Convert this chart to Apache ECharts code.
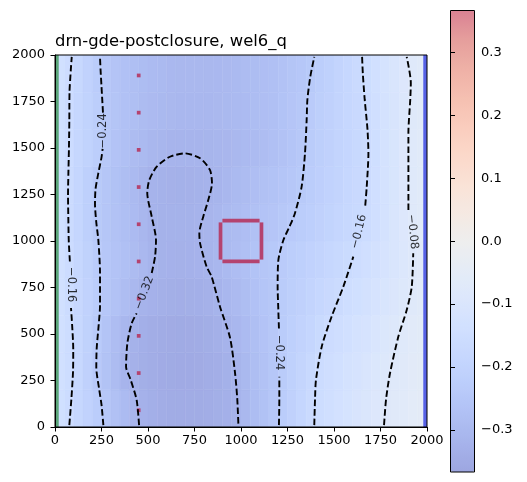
<!DOCTYPE html>
<html>
<head>
<meta charset="utf-8">
<script src="https://cdn.jsdelivr.net/npm/echarts@6/dist/echarts.min.js"></script>
<style>
  html, body { margin: 0; padding: 0; background: #fff; }
  #chart { width: 527px; height: 482px; }
</style>
</head>
<body>
<div id="chart"></div>
<script>
// cell centres of the coarse field, model units (m)
const colX = [25, 75, 125, 175, 225, 275, 325, 375, 425, 475, 525, 575, 625, 675, 725, 775, 825, 875, 925, 975,
  1025, 1075, 1125, 1175, 1225, 1275, 1325, 1375, 1425, 1475, 1525, 1575, 1625, 1675, 1725, 1775, 1825, 1875, 1925, 1975];
const rowY = [100, 300, 500, 700, 900, 1100, 1300, 1500, 1700, 1900];

// wel6_q sensitivity, one row per rowY entry (bottom -> top)
const row100 = [-0.140, -0.160, -0.183, -0.206, -0.229, -0.251, -0.272, -0.293, -0.314, -0.327, -0.335, -0.341, -0.345, -0.347, -0.347, -0.345, -0.342, -0.337, -0.330, -0.322,
  -0.305, -0.287, -0.269, -0.251, -0.231, -0.210, -0.189, -0.168, -0.153, -0.142, -0.131, -0.121, -0.110, -0.099, -0.089, -0.079, -0.072, -0.065, -0.058, -0.051];
const row300 = [-0.138, -0.153, -0.178, -0.210, -0.242, -0.266, -0.291, -0.316, -0.328, -0.336, -0.343, -0.348, -0.351, -0.352, -0.352, -0.349, -0.344, -0.338, -0.329, -0.318,
  -0.301, -0.284, -0.267, -0.250, -0.233, -0.213, -0.193, -0.174, -0.157, -0.147, -0.136, -0.126, -0.116, -0.106, -0.095, -0.085, -0.076, -0.069, -0.061, -0.054];
const row500 = [-0.138, -0.154, -0.178, -0.207, -0.237, -0.261, -0.285, -0.308, -0.325, -0.334, -0.341, -0.346, -0.349, -0.350, -0.349, -0.346, -0.340, -0.332, -0.322, -0.307,
  -0.293, -0.278, -0.263, -0.248, -0.233, -0.217, -0.201, -0.186, -0.170, -0.156, -0.146, -0.136, -0.126, -0.116, -0.105, -0.095, -0.085, -0.076, -0.068, -0.059];
const row700 = [-0.139, -0.157, -0.181, -0.206, -0.231, -0.251, -0.268, -0.286, -0.303, -0.320, -0.327, -0.333, -0.336, -0.338, -0.337, -0.334, -0.328, -0.319, -0.307, -0.295,
  -0.283, -0.270, -0.258, -0.246, -0.234, -0.222, -0.210, -0.198, -0.185, -0.173, -0.161, -0.150, -0.140, -0.129, -0.118, -0.108, -0.097, -0.087, -0.076, -0.065];
const row900 = [-0.139, -0.158, -0.182, -0.207, -0.232, -0.249, -0.263, -0.276, -0.289, -0.303, -0.316, -0.324, -0.327, -0.328, -0.327, -0.323, -0.316, -0.306, -0.296, -0.286,
  -0.276, -0.265, -0.255, -0.245, -0.235, -0.225, -0.215, -0.205, -0.195, -0.185, -0.175, -0.165, -0.154, -0.142, -0.129, -0.117, -0.105, -0.092, -0.080, -0.070];
const row1100 = [-0.140, -0.162, -0.188, -0.215, -0.241, -0.254, -0.267, -0.280, -0.293, -0.307, -0.320, -0.324, -0.326, -0.326, -0.324, -0.321, -0.314, -0.306, -0.297, -0.289,
  -0.281, -0.272, -0.264, -0.256, -0.247, -0.239, -0.229, -0.219, -0.209, -0.199, -0.189, -0.179, -0.169, -0.159, -0.141, -0.124, -0.106, -0.089, -0.075, -0.065];
const row1300 = [-0.141, -0.163, -0.189, -0.215, -0.241, -0.255, -0.269, -0.284, -0.298, -0.312, -0.322, -0.326, -0.328, -0.329, -0.328, -0.326, -0.322, -0.315, -0.306, -0.298,
  -0.290, -0.282, -0.273, -0.265, -0.257, -0.249, -0.240, -0.229, -0.218, -0.206, -0.195, -0.183, -0.172, -0.161, -0.143, -0.125, -0.107, -0.089, -0.075, -0.065];
const row1500 = [-0.140, -0.160, -0.182, -0.204, -0.227, -0.247, -0.263, -0.276, -0.288, -0.298, -0.306, -0.312, -0.316, -0.318, -0.318, -0.317, -0.315, -0.312, -0.309, -0.304,
  -0.298, -0.292, -0.285, -0.276, -0.267, -0.257, -0.246, -0.234, -0.222, -0.210, -0.198, -0.186, -0.174, -0.162, -0.145, -0.126, -0.108, -0.089, -0.075, -0.065];
const row1700 = [-0.140, -0.159, -0.182, -0.204, -0.227, -0.246, -0.259, -0.270, -0.280, -0.288, -0.295, -0.301, -0.305, -0.307, -0.308, -0.308, -0.306, -0.304, -0.301, -0.298,
  -0.293, -0.287, -0.281, -0.274, -0.265, -0.256, -0.246, -0.235, -0.222, -0.210, -0.197, -0.185, -0.172, -0.160, -0.143, -0.126, -0.109, -0.092, -0.077, -0.067];
const row1900 = [-0.139, -0.156, -0.180, -0.205, -0.230, -0.248, -0.260, -0.270, -0.279, -0.287, -0.293, -0.298, -0.302, -0.304, -0.305, -0.305, -0.304, -0.302, -0.299, -0.296,
  -0.291, -0.287, -0.281, -0.274, -0.267, -0.259, -0.250, -0.240, -0.226, -0.212, -0.197, -0.183, -0.168, -0.153, -0.137, -0.121, -0.104, -0.088, -0.076, -0.066];
const fieldRows = [row100, row300, row500, row700, row900, row1100, row1300, row1500, row1700, row1900];

// contour paths [x, y], split where the inline label sits
const c016L = [
  [[77, 10], [88, 150], [97, 300], [98, 420], [92, 550], [86, 640]],
  [[80, 890], [74, 1000], [72, 1100], [70, 1250], [72, 1365], [75, 1500], [77, 1650], [78, 1800], [85, 1920], [90, 1990]],
];
const c024L = [
  [[260, 10], [250, 120], [238, 200], [222, 320], [224, 420], [235, 550], [242, 650], [242, 830], [233, 1005], [222, 1100], [215, 1200], [218, 1280], [233, 1365], [250, 1450], [256, 1495]],
  [[258, 1690], [254, 1760], [250, 1830], [245, 1920], [242, 1990]],
];
const c032 = [
  [[452, 10], [439, 145], [407, 253], [382, 324], [389, 450], [412, 557], [439, 611]],
  [[520, 828], [538, 916], [543, 1005], [520, 1131], [496, 1258], [507, 1328], [547, 1400], [618, 1453], [699, 1471], [780, 1445], [833, 1382], [844, 1310], [824, 1220], [797, 1131], [776, 1043], [780, 987], [815, 862], [842, 808], [887, 647], [941, 480], [968, 290], [980, 150], [986, 10]],
];
const c024R = [
  [[1204, 10], [1206, 150], [1206, 270]],
  [[1204, 530], [1200, 650], [1197, 754], [1201, 898], [1228, 1005], [1262, 1080], [1290, 1149], [1326, 1292], [1344, 1471], [1353, 1651], [1357, 1761], [1372, 1880], [1394, 1990]],
];
const c016R = [
  [[1394, 10], [1398, 150], [1403, 253], [1434, 432], [1487, 593], [1550, 754], [1604, 916]],
  [[1668, 1190], [1676, 1292], [1685, 1471], [1680, 1600], [1665, 1761], [1655, 1900], [1651, 1990]],
];
const c008R = [
  [[1769, 10], [1780, 150], [1801, 289], [1846, 486], [1891, 629], [1918, 754], [1926, 934]],
  [[1900, 1167], [1900, 1300], [1900, 1471], [1900, 1582], [1910, 1761], [1913, 1851], [1891, 1990]],
];
const contours = [c016L, c024L, c032, c024R, c016R, c008R];

// inline contour labels: x, y, text, rotation (deg)
const contourLabels = [
  [84, 765, '\u22120.16', -90],
  [258, 1592, '\u22120.24', 90],
  [480, 720, '\u22120.32', 69],
  [1206, 400, '\u22120.24', -90],
  [1634, 1050, '\u22120.16', 76],
  [1922, 1050, '\u22120.08', -84],
];

// boundary and well cells [x0, x1, y0, y1]
const drnCells = [[0, 20, 0, 2000]];
const chdCells = [[1980, 2000, 0, 2000]];
const wellCells = [
  [440, 460, 80, 100], [440, 460, 280, 300], [440, 460, 480, 500], [440, 460, 680, 700], [440, 460, 880, 900],
  [440, 460, 1080, 1100], [440, 460, 1280, 1300], [440, 460, 1480, 1500], [440, 460, 1680, 1700], [440, 460, 1880, 1900],
];
const boxCells = [[880, 900, 900, 1100], [1100, 1120, 900, 1100], [900, 1100, 1100, 1120], [900, 1100, 880, 900]];

const cbTicks = [-0.3, -0.2, -0.1, 0.0, 0.1, 0.2, 0.3];
const cbTickLabels = ['\u22120.3', '\u22120.2', '\u22120.1', '0.0', '0.1', '0.2', '0.3'];
const vLim = 0.367;

// matplotlib coolwarm, drawn at alpha 0.5 over white
const coolwarm = [
  [0.2298, 0.2987, 0.7537], [0.3039, 0.4065, 0.8450], [0.3830, 0.5094, 0.9174], [0.4667, 0.6046, 0.9682],
  [0.5530, 0.6889, 0.9954], [0.6392, 0.7596, 0.9982], [0.7222, 0.8140, 0.9766], [0.7987, 0.8498, 0.9317],
  [0.8654, 0.8654, 0.8654], [0.9241, 0.8274, 0.7745], [0.9589, 0.7698, 0.6780], [0.9700, 0.6943, 0.5794],
  [0.9580, 0.6028, 0.4818], [0.9239, 0.4973, 0.3880], [0.8692, 0.3783, 0.3003], [0.7956, 0.2413, 0.2205],
  [0.7057, 0.0156, 0.1502],
];
const paleColors = coolwarm.map(c => 'rgb(' + c.map(v => Math.round((v * 0.5 + 0.5) * 255)).join(',') + ')');

const FONT = 'DejaVu Sans';
const CW = 50, CH = 200;

const fieldData = [];
fieldRows.forEach((row, j) => row.forEach((v, i) => fieldData.push([colX[i], rowY[j], v])));

function cellRender(color) {
  return function (params, api) {
    const p0 = api.coord([api.value(0), api.value(3)]);
    const p1 = api.coord([api.value(1), api.value(2)]);
    return {
      type: 'rect',
      shape: { x: p0[0], y: p0[1], width: p1[0] - p0[0], height: p1[1] - p0[1] },
      style: { fill: color },
    };
  };
}

const series = [{
  type: 'custom',
  xAxisIndex: 0, yAxisIndex: 0,
  data: fieldData,
  encode: { x: 0, y: 1 },
  clip: true, silent: true, z: 1,
  renderItem: (params, api) => {
    const x = api.value(0), y = api.value(1);
    const p0 = api.coord([x - CW / 2, y + CH / 2]);
    const p1 = api.coord([x + CW / 2, y - CH / 2]);
    const c = api.visual('color');
    return {
      type: 'rect',
      shape: { x: p0[0], y: p0[1], width: p1[0] - p0[0], height: p1[1] - p0[1] },
      style: { fill: c, stroke: c, lineWidth: 0.5 },
    };
  },
}];

[[drnCells, '#5ba67a'], [chdCells, '#5661e6'], [wellCells, '#b4436f'], [boxCells, '#b4436f']].forEach(([cells, color]) => {
  series.push({
    type: 'custom', xAxisIndex: 0, yAxisIndex: 0, data: cells, clip: true, silent: true, z: 3,
    encode: { x: [0, 1], y: [2, 3] },
    renderItem: cellRender(color),
  });
});

contours.forEach(parts => parts.forEach(seg => {
  series.push({
    type: 'line', xAxisIndex: 0, yAxisIndex: 0, data: seg, showSymbol: false, symbol: 'none',
    smooth: 0.25, silent: true, z: 4,
    lineStyle: { color: '#000', width: 1.9, type: [6.5, 3] },
  });
}));

series.push({
  type: 'scatter', xAxisIndex: 0, yAxisIndex: 0, symbolSize: 1, silent: true, z: 5,
  itemStyle: { color: 'rgba(0,0,0,0)' },
  data: contourLabels.map(([x, y, t, r]) => ({
    value: [x, y],
    label: { show: true, position: 'inside', formatter: t, rotate: r, color: '#000', fontSize: 11.5, fontFamily: FONT },
  })),
});

const axisCommon = {
  type: 'value', min: 0, max: 2000, interval: 250,
  axisLine: { show: true, lineStyle: { color: '#000', width: 1 } },
  axisTick: { show: true, inside: false, length: 4.5, lineStyle: { color: '#000', width: 1 } },
  splitLine: { show: false },
  axisLabel: { color: '#000', fontSize: 13, fontFamily: FONT, showMinLabel: true, showMaxLabel: true, formatter: v => String(v) },
  z: 10,
};

const option = {
  animation: false,
  backgroundColor: '#fff',
  title: {
    text: 'drn-gde-postclosure, wel6_q', left: 55, top: 34, padding: 0,
    textStyle: { color: '#000', fontSize: 16.4, fontWeight: 'normal', fontFamily: FONT },
  },
  grid: [
    { left: 55, top: 55, width: 372, height: 372, show: true, borderColor: '#000', borderWidth: 1, backgroundColor: 'transparent', z: 10 },
    { left: 450.5, top: 10.5, width: 24, height: 461.5, show: true, borderColor: '#000', borderWidth: 1, backgroundColor: 'transparent', z: 10 },
  ],
  xAxis: [
    Object.assign({}, axisCommon, { gridIndex: 0, position: 'bottom', axisLabel: Object.assign({}, axisCommon.axisLabel, { margin: 7 }) }),
    { gridIndex: 1, type: 'value', min: 0, max: 1, show: false },
  ],
  yAxis: [
    Object.assign({}, axisCommon, { gridIndex: 0, position: 'left', axisLabel: Object.assign({}, axisCommon.axisLabel, { margin: 10 }) }),
    {
      gridIndex: 1, type: 'value', min: -vLim, max: vLim, position: 'right', z: 10,
      axisLine: { show: false },
      splitLine: { show: false },
      axisTick: { show: true, length: 4.5, customValues: cbTicks, lineStyle: { color: '#000' } },
      axisLabel: {
        customValues: cbTicks, margin: 6.5, color: '#000', fontSize: 13, fontFamily: FONT,
        formatter: v => cbTickLabels[cbTicks.findIndex(t => Math.abs(t - v) < 1e-6)] || '',
      },
    },
  ],
  visualMap: {
    type: 'continuous', seriesIndex: 0, dimension: 2,
    min: -vLim, max: vLim, calculable: false, realtime: false,
    orient: 'vertical', left: 450.5, top: 10.5, itemWidth: 24, itemHeight: 461.5, padding: 0,
    text: null, hoverLink: false,
    inRange: { color: paleColors },
  },
  series: series,
};

const chart = echarts.init(document.getElementById('chart'), null, { renderer: 'canvas' });
chart.setOption(option);
</script>
</body>
</html>
